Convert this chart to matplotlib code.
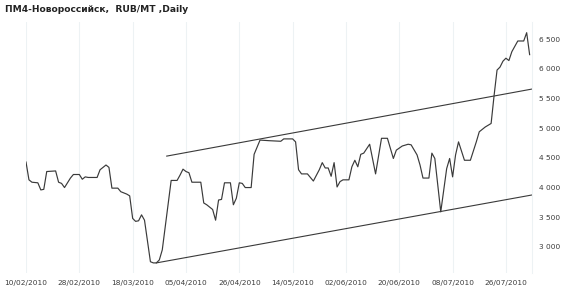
"""
ПМ4-Новороссийск, RUB/MT, daily price with trend channel.
"""

import matplotlib
matplotlib.use("Agg")
import matplotlib.pyplot as plt
from matplotlib.ticker import FuncFormatter

# --- data (index = trading day, value = RUB/MT) ---
day_idx = [0, 1, 2, 4, 5, 6, 7, 10, 11, 12, 13, 15, 16, 18, 19, 20, 21, 24, 25, 27,
           28, 29, 31, 32, 34, 35, 36, 37, 38, 39, 40, 42, 43, 44, 45, 46, 49, 51, 52, 53,
           54, 55, 56, 59, 60, 61, 63, 64, 65, 66, 67, 69, 70, 71, 72, 73, 74, 76, 77, 79,
           82, 86, 87, 90, 91, 92, 93, 95, 97, 99, 100, 101, 102, 103, 104, 105, 106, 107, 109, 110,
           111, 112, 113, 114, 116, 118, 120, 122, 123, 124, 125, 127, 129, 130, 132, 133, 134, 136, 137, 138,
           140, 142, 143, 144, 145, 146, 148, 150, 152, 153, 155, 156, 157, 158, 159, 160, 161, 162, 163, 164,
           166, 168, 169, 170]
price = [4430, 4130, 4090, 4080, 3960, 3970, 4270, 4280, 4090, 4070, 4000, 4160, 4220, 4220, 4140, 4180, 4170, 4170, 4300, 4380,
         4340, 3990, 3990, 3930, 3890, 3860, 3480, 3430, 3440, 3540, 3450, 2750, 2730, 2730, 2780, 2950, 4120, 4120, 4210, 4310,
         4270, 4250, 4090, 4090, 3740, 3710, 3630, 3450, 3790, 3800, 4080, 4080, 3710, 3820, 4080, 4070, 4000, 4000, 4560, 4800,
         4790, 4780, 4820, 4820, 4770, 4300, 4230, 4230, 4110, 4300, 4420, 4330, 4330, 4190, 4420, 4010, 4100, 4130, 4130, 4350,
         4460, 4350, 4560, 4580, 4730, 4230, 4830, 4830, 4660, 4490, 4630, 4700, 4730, 4720, 4550, 4380, 4160, 4160, 4580, 4490,
         3590, 4320, 4490, 4180, 4550, 4770, 4460, 4460, 4770, 4940, 5020, 5050, 5080, 5550, 5980, 6030, 6130, 6180, 6140, 6290,
         6470, 6470, 6610, 6240]

# trend channel anchors
upper_x = [47.5, 170.8]
upper_y = [4530, 5660]
lower_x = [44, 170.8]
lower_y = [2730, 3875]

tick_pos = [0, 18, 36, 54, 72, 90, 108, 126, 144, 162]
tick_labels = ["10/02/2010", "28/02/2010", "18/03/2010", "05/04/2010", "26/04/2010",
               "14/05/2010", "02/06/2010", "20/06/2010", "08/07/2010", "26/07/2010"]
y_ticks = [3000, 3500, 4000, 4500, 5000, 5500, 6000, 6500]

fig = plt.figure(figsize=(5.7, 2.95), dpi=100)
ax = fig.add_axes([26 / 570, 1 - 273 / 295, (532 - 26) / 570, (273 - 22) / 295])

ax.plot(day_idx, price, color="#3a3a3a", linewidth=0.85)
ax.plot(upper_x, upper_y, color="#3a3a3a", linewidth=0.8)
ax.plot(lower_x, lower_y, color="#3a3a3a", linewidth=0.8)

ax.set_xlim(0, 170.8)
ax.set_ylim(2560, 6790)
ax.set_xticks(tick_pos)
ax.set_xticklabels(tick_labels)
ax.set_yticks(y_ticks)
ax.yaxis.set_major_formatter(FuncFormatter(lambda v, p: f"{int(v):,}".replace(",", " ")))
ax.yaxis.tick_right()
ax.tick_params(axis="both", length=0, labelsize=5.3, colors="#3c3c3c")
ax.tick_params(axis="x", pad=5)
ax.tick_params(axis="y", pad=5)

ax.grid(True, axis="x", color="#edf2f4", linewidth=0.8)
ax.set_axisbelow(True)
for side in ["top", "left", "bottom"]:
    ax.spines[side].set_visible(False)
ax.spines["right"].set_color("#edf2f4")

fig.text(5 / 570, 1 - 9 / 295, "ПМ4-Новороссийск,  RUB/MT ,Daily", fontsize=6.6,
         fontweight="bold", color="#222222", va="center", ha="left")

plt.savefig("out.png", dpi=100)
